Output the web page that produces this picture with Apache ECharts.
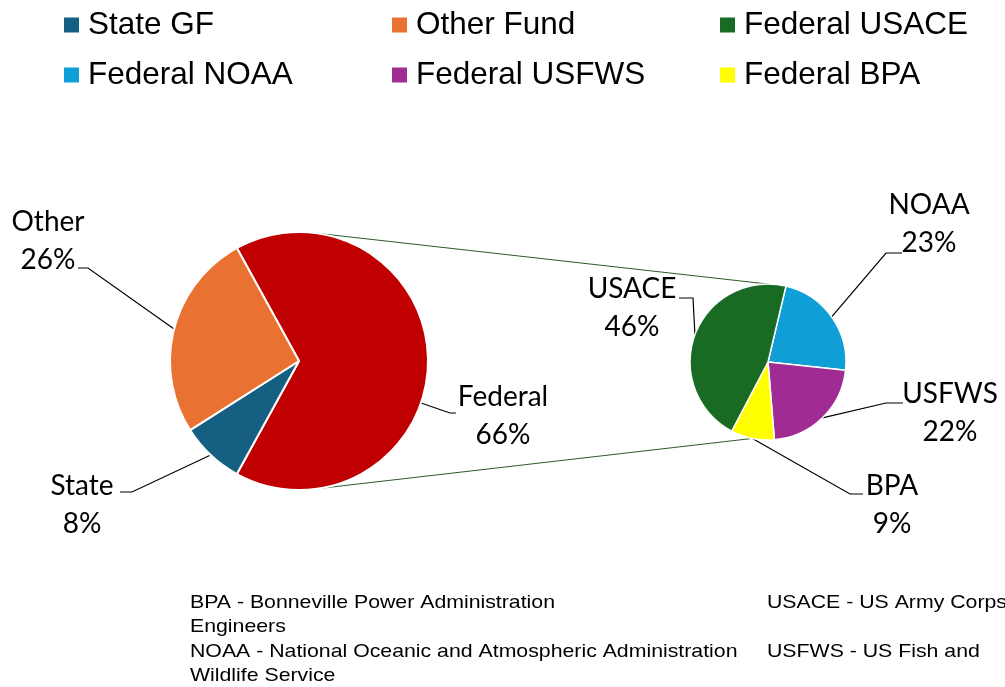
<!DOCTYPE html>
<html><head><meta charset="utf-8">
<script src="https://cdn.jsdelivr.net/npm/echarts@6/dist/echarts.min.js"></script>
<style>html,body{margin:0;padding:0;background:#fff}#c{width:1005px;height:687px}</style>
</head><body><div id="c"></div>
<script>
// ---- data ----
const mainNames  = ['Federal', 'State GF', 'Other Fund'];
const mainLabels = ['Federal', 'State', 'Other'];
const mainValues = [66, 8, 26];
const subNames   = ['Federal NOAA', 'Federal USFWS', 'Federal BPA', 'Federal USACE'];
const subLabels  = ['NOAA', 'USFWS', 'BPA', 'USACE'];
const subValues  = [23, 22, 9, 46];
const legendCols = [['State GF', 'Federal NOAA'], ['Other Fund', 'Federal USFWS'], ['Federal USACE', 'Federal BPA']];
const noteLines  = [
  ['BPA - Bonneville Power Administration', 'USACE - US Army Corps'],
  ['Engineers', ''],
  ['NOAA - National Oceanic and Atmospheric Administration', 'USFWS - US Fish and'],
  ['Wildlife Service', '']
];

// ---- styling / layout ----
const mainColors = ['#C00000', '#156082', '#E97132'];
const subColors  = ['#0F9ED5', '#A02B93', '#FFFF00', '#196B24'];
const mainC = [299, 361], mainR = 129;
const subC  = [768, 362], subR  = 78;
const subStart = 76.7;
const mainStart = 360 * mainValues[0] / mainValues.reduce((a, b) => a + b, 0) / 2;

const labelPlace = {
  'Federal': {x: 503, y: 416, bend: [450, 413], end: [456, 413], angle: -19},
  'State':   {x: 82,  y: 505, bend: [132, 492], end: [120, 492]},
  'Other':   {x: 48,  y: 241, bend: [88, 268],  end: [78, 268]},
  'NOAA':    {x: 929, y: 224, bend: [886, 253], end: [902, 253]},
  'USFWS':   {x: 950, y: 413, bend: [886, 403], end: [903, 403]},
  'BPA':     {x: 892, y: 505, bend: [850, 494], end: [863, 494]},
  'USACE':   {x: 632, y: 308, bend: [693, 298], end: [679, 298]}
};

const chart = echarts.init(document.getElementById('c'), null, {renderer: 'canvas'});

function labelLayoutFor(labels, c, r) {
  return function (p) {
    const name = labels[p.dataIndex];
    const lp = labelPlace[name];
    let start = p.labelLinePoints ? p.labelLinePoints[0] : [c[0], c[1]];
    if (lp.angle !== undefined) {
      const a = lp.angle * Math.PI / 180;
      start = [c[0] + r * Math.cos(a), c[1] - r * Math.sin(a)];
    }
    return {
      x: lp.x, y: lp.y, align: 'center', verticalAlign: 'middle',
      labelLinePoints: [start, lp.bend, lp.end]
    };
  };
}

const labelStyle = {
  show: true, position: 'outside', color: '#000',
  fontFamily: 'Lato', fontSize: 28, lineHeight: 38, align: 'center'
};
const lineStyle = {show: true, smooth: false, length: 10, length2: 10, lineStyle: {color: '#000', width: 1.2}};

function pt(c, r, deg) {
  const a = deg * Math.PI / 180;
  return [c[0] + r * Math.cos(a), c[1] - r * Math.sin(a)];
}
const conn = [
  [pt(mainC, mainR, 82), pt(subC, subR, subStart)],
  [pt(mainC, mainR, -82), pt(subC, subR, -101.5)]
];

const graphics = [];
conn.forEach(l => graphics.push({
  type: 'line', z: 1, silent: true,
  shape: {x1: l[0][0], y1: l[0][1], x2: l[1][0], y2: l[1][1]},
  style: {stroke: '#2E5A2A', lineWidth: 1}
}));
noteLines.forEach((ln, i) => {
  [190, 767].forEach((x, j) => {
    if (ln[j]) graphics.push({
      type: 'text', x: x, y: 602.5 + i * 24.5, scaleX: 1.15, silent: true,
      style: {text: ln[j], font: '18.5px "Liberation Sans", Arial, sans-serif', fill: '#000',
              textAlign: 'left', textVerticalAlign: 'middle'}
    });
  });
});

const legends = legendCols.map((col, i) => ({
  orient: 'vertical', left: [62, 390, 718][i], top: 9, padding: 0,
  data: col, icon: 'rect', itemWidth: 17, itemHeight: 17, itemGap: 18,
  selectedMode: false,
  textStyle: {fontFamily: 'Liberation Sans', fontSize: 31.5, color: '#000', lineHeight: 30, padding: [0, 0, 0, 3]}
}));

chart.setOption({
  animation: false,
  backgroundColor: '#fff',
  legend: legends,
  graphic: graphics,
  series: [
    {
      type: 'pie', z: 2, center: mainC, radius: mainR, startAngle: mainStart, clockwise: true,
      avoidLabelOverlap: false,
      itemStyle: {borderColor: '#fff', borderWidth: 2},
      label: Object.assign({}, labelStyle, {formatter: p => mainLabels[p.dataIndex] + '\n' + p.value + '%'}),
      labelLine: lineStyle,
      labelLayout: labelLayoutFor(mainLabels, mainC, mainR),
      emphasis: {disabled: true},
      data: mainNames.map((n, i) => ({name: n, value: mainValues[i], itemStyle: {color: mainColors[i]}}))
    },
    {
      type: 'pie', z: 2, center: subC, radius: subR, startAngle: subStart, clockwise: true,
      avoidLabelOverlap: false,
      itemStyle: {borderColor: '#fff', borderWidth: 1.5},
      label: Object.assign({}, labelStyle, {formatter: p => subLabels[p.dataIndex] + '\n' + p.value + '%'}),
      labelLine: lineStyle,
      labelLayout: labelLayoutFor(subLabels, subC, subR),
      emphasis: {disabled: true},
      data: subNames.map((n, i) => ({name: n, value: subValues[i], itemStyle: {color: subColors[i]}}))
    }
  ]
});
</script></body></html>
